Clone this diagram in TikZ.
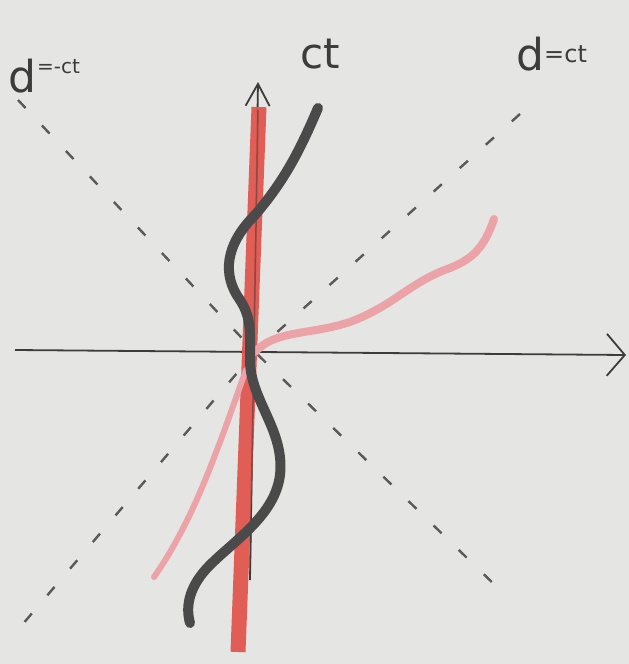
\documentclass[tikz,border=0pt]{standalone}
\usepackage{fontspec}
\setmainfont{DejaVu Sans}
\usetikzlibrary{arrows.meta}
\definecolor{paper}{HTML}{E5E5E3}
\definecolor{ink}{HTML}{3C3C3C}
\definecolor{redline}{HTML}{E0574F}
\definecolor{pinkline}{HTML}{EBA3A8}
\definecolor{darkline}{HTML}{4A4A4A}
\tikzset{
  axisx/.style={draw=ink, line width=1.8pt, -{Straight Barb[length=18pt,width=42pt,line width=1.8pt]}},
  axisy/.style={draw=ink, line width=1.8pt, -{Straight Barb[length=22pt,width=24pt,line width=1.8pt]}},
  cone/.style={draw=ink!85, line width=2.4pt, dash pattern=on 11pt off 24pt},
  lbl/.style={text=ink, inner sep=0pt, anchor=base west}
}
\begin{document}
\begin{tikzpicture}[x=1pt,y=-1pt]
\fill[paper] (0,0) rectangle (629,664);
\useasboundingbox (0,0) rectangle (629,664);
% coordinates
\coordinate (O) at (255,352);
\coordinate (xl) at (15,350);
\coordinate (xr) at (626,355);
\coordinate (yb) at (250,580);
\coordinate (yt) at (258,82);
\coordinate (c1a) at (520,114);
\coordinate (c1b) at (22,625);
\coordinate (c2a) at (18,100);
\coordinate (c2b) at (500,590);
% dashed light cone
\draw[cone] (c1a) -- (O) -- (c1b);
\draw[cone] (c2a) -- (O) -- (c2b);
% axes
\draw[axisx] (xl) -- (xr);
\draw[axisy] (yb) -- (yt);
% red vertical worldline
\coordinate (rt) at (259,107);
\coordinate (rb) at (238,652);
\draw[redline, line width=15pt, opacity=0.95] (rt) -- (rb);
\draw[ink, line width=1.5pt, opacity=0.5] (258,110) -- (yb);
% pink worldline
\coordinate (pt) at (494,219);
\coordinate (pb) at (154,577);
\draw[pinkline, line width=8pt, line cap=round]
  (pt) .. controls (485,245) and (475,258) .. (450,268)
  .. controls (410,282) and (395,305) .. (350,322)
  .. controls (310,335) and (275,330) .. (O);
\draw[pinkline, line width=6pt, line cap=round]
  (246,370) .. controls (235,400) and (225,430) .. (215,455)
  .. controls (200,495) and (180,540) .. (pb);
% dark wavy worldline
\coordinate (dt) at (318,108);
\coordinate (db) at (190,623);
\draw[darkline, line width=10pt, line cap=round]
  (dt) .. controls (300,150) and (285,180) .. (255,215)
  .. controls (225,245) and (222,275) .. (240,300)
  .. controls (252,318) and (250,335) .. (250,360)
  .. controls (250,400) and (285,430) .. (280,475)
  .. controls (275,515) and (235,540) .. (210,565)
  .. controls (190,585) and (185,605) .. (db);
% labels
\node[lbl, font=\fontsize{42}{42}\selectfont] (lct) at (300,68) {ct};
\node[lbl, font=\fontsize{44}{44}\selectfont] (lp) at (516,70) {d};
\node[lbl, font=\fontsize{24}{24}\selectfont] (lp2) at (544,62) {=ct};
\node[lbl, font=\fontsize{44}{44}\selectfont] (lm) at (8,92) {d};
\node[lbl, font=\fontsize{20}{20}\selectfont] (lm2) at (37,73) {=-ct};
\end{tikzpicture}
\end{document}
